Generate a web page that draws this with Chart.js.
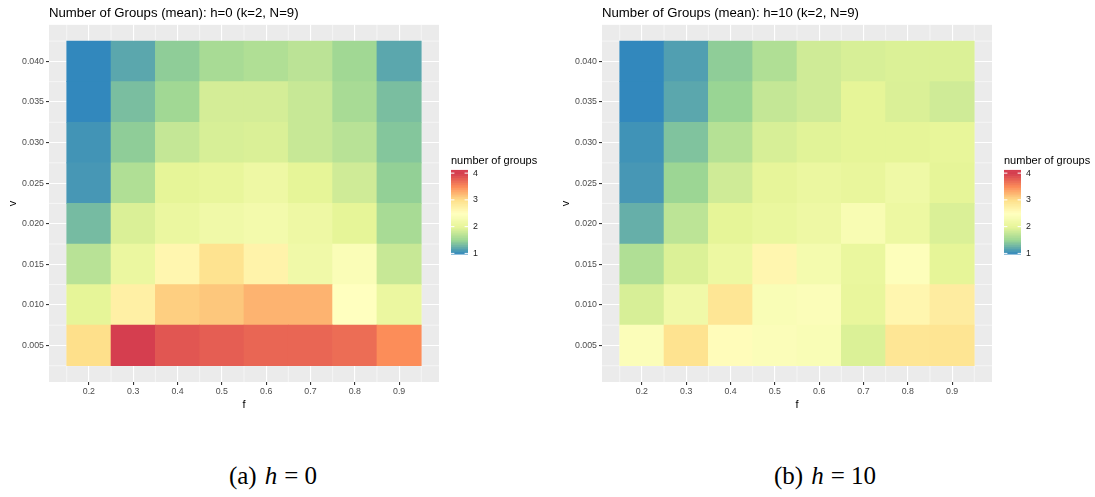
<!DOCTYPE html>
<html>
<head>
<meta charset="utf-8">
<script src="https://cdn.jsdelivr.net/npm/chart.js@4"></script>
<style>
  body { margin: 0; background: #fff; width: 1095px; height: 497px; position: relative; overflow: hidden; }
  .panel { position: absolute; top: 0; width: 550px; height: 420px; }
  .cap { position: absolute; top: 462px; font-family: "Liberation Serif", serif; font-size: 25px; color: #000; white-space: nowrap; transform: translateX(-50%); }
  .cap i { margin: 0 7px 0 8px; }
</style>
</head>
<body>
<div class="panel" style="left:0px"><canvas id="left" width="550" height="420"></canvas></div>
<div class="panel" style="left:553px"><canvas id="right" width="550" height="420"></canvas></div>
<div class="cap" style="left:273px">(a)<i>h</i>= 0</div>
<div class="cap" style="left:825px">(b)<i>h</i>= 10</div>
<script>
// axes levels
const fLevels = [0.2, 0.3, 0.4, 0.5, 0.6, 0.7, 0.8, 0.9];
const vLevels = [0.005, 0.010, 0.015, 0.020, 0.025, 0.030, 0.035, 0.040];
const legendBreaks = [1, 2, 3, 4];

// mean number of groups, one row per v (0.005 first), columns follow fLevels
const h0Rows = [
  [3.0, 4.0, 3.85, 3.8, 3.75, 3.75, 3.7, 3.5],
  [2.0, 2.75, 3.1, 3.15, 3.27, 3.27, 2.5, 2.1],
  [1.7, 2.1, 2.65, 2.95, 2.7, 2.2, 2.4, 1.8],
  [1.33, 1.92, 2.1, 2.2, 2.25, 2.15, 2.0, 1.6],
  [1.1, 1.65, 2.0, 2.05, 2.15, 2.0, 1.85, 1.47],
  [1.08, 1.45, 1.78, 1.9, 1.92, 1.8, 1.7, 1.4],
  [1.0, 1.35, 1.55, 1.88, 1.88, 1.8, 1.6, 1.35],
  [1.0, 1.2, 1.45, 1.6, 1.65, 1.72, 1.55, 1.2]
];
const h10Rows = [
  [2.42, 2.95, 2.55, 2.42, 2.38, 1.93, 2.9, 2.92],
  [1.9, 2.2, 2.9, 2.38, 2.42, 2.05, 2.65, 2.8],
  [1.65, 1.93, 2.13, 2.65, 2.28, 2.08, 2.45, 2.0],
  [1.25, 1.73, 2.0, 2.08, 2.15, 2.35, 2.13, 1.92],
  [1.1, 1.52, 1.85, 2.02, 2.1, 2.05, 2.18, 2.0],
  [1.07, 1.38, 1.68, 1.9, 1.97, 2.0, 2.0, 2.03],
  [1.0, 1.2, 1.5, 1.78, 1.85, 2.0, 1.92, 1.85],
  [1.0, 1.15, 1.45, 1.65, 1.85, 1.9, 1.93, 1.93]
];

// Spectral (reversed) low -> high
const spectral = ["#3288BD", "#99D594", "#E6F598", "#FFFFBF", "#FEE08B", "#FC8D59", "#D53E4F"];
const colMin = 1, colMax = 4;

function hexRgb(h) {
  return [parseInt(h.slice(1, 3), 16), parseInt(h.slice(3, 5), 16), parseInt(h.slice(5, 7), 16)];
}
function colorFor(val) {
  let t = (val - colMin) / (colMax - colMin);
  t = Math.max(0, Math.min(1, t));
  const pos = t * (spectral.length - 1);
  const i = Math.min(Math.floor(pos), spectral.length - 2);
  const k = pos - i;
  const a = hexRgb(spectral[i]), b = hexRgb(spectral[i + 1]);
  const c = a.map((x, j) => Math.round(x + (b[j] - x) * k));
  return "rgb(" + c.join(",") + ")";
}

const fHalf = (fLevels[1] - fLevels[0]) / 2;
const vHalf = (vLevels[1] - vLevels[0]) / 2;

function expanded(levels, half) {
  const lo = levels[0] - half, hi = levels[levels.length - 1] + half;
  const pad = (hi - lo) * 0.05;
  return [lo - pad, hi + pad];
}

// ggplot-ish panel background + minor grid
const panelBg = {
  id: "panelBg",
  beforeDraw(chart) {
    const a = chart.chartArea, ctx = chart.ctx;
    ctx.save();
    ctx.fillStyle = "#EBEBEB";
    ctx.fillRect(a.left, a.top, a.right - a.left, a.bottom - a.top);
    ctx.restore();
  },
  beforeDatasetsDraw(chart) {
    const a = chart.chartArea, ctx = chart.ctx;
    const xs = chart.scales.x, ys = chart.scales.y;
    ctx.save();
    ctx.strokeStyle = "#ffffff";
    ctx.lineWidth = 0.55;
    fLevels.concat([fLevels[fLevels.length - 1] + 2 * fHalf]).forEach(f => {
      const px = xs.getPixelForValue(f - fHalf);
      ctx.beginPath(); ctx.moveTo(px, a.top); ctx.lineTo(px, a.bottom); ctx.stroke();
    });
    vLevels.concat([vLevels[vLevels.length - 1] + 2 * vHalf]).forEach(v => {
      const py = ys.getPixelForValue(v - vHalf);
      ctx.beginPath(); ctx.moveTo(a.left, py); ctx.lineTo(a.right, py); ctx.stroke();
    });
    ctx.restore();
  }
};

// colourbar legend on the right
const colorBar = {
  id: "colorBar",
  afterDraw(chart) {
    const a = chart.chartArea, ctx = chart.ctx;
    const barW = 17, barH = 84;
    const x0 = a.right + 12;
    const yTop = (a.top + a.bottom) / 2 - 33.5, yBot = yTop + barH;
    const vLo = 0.98, vHi = 4.12;
    const yFor = v => yBot - (v - vLo) / (vHi - vLo) * barH;
    ctx.save();
    const steps = 120;
    for (let s = 0; s < steps; s++) {
      const v = vLo + (vHi - vLo) * (s + 0.5) / steps;
      ctx.fillStyle = colorFor(v);
      ctx.fillRect(x0, yBot - (s + 1) * barH / steps, barW, barH / steps + 0.6);
    }
    ctx.strokeStyle = "#ffffff";
    ctx.lineWidth = 1;
    ctx.fillStyle = "#1a1a1a";
    ctx.font = "8.8px 'Liberation Sans', Arial, sans-serif";
    ctx.textBaseline = "middle";
    ctx.textAlign = "left";
    legendBreaks.forEach(b => {
      const y = yFor(b);
      ctx.beginPath();
      ctx.moveTo(x0, y); ctx.lineTo(x0 + 3.4, y);
      ctx.moveTo(x0 + barW - 3.4, y); ctx.lineTo(x0 + barW, y);
      ctx.stroke();
      ctx.fillText(String(b), x0 + barW + 5, y);
    });
    ctx.fillStyle = "#000";
    ctx.font = "11px 'Liberation Sans', Arial, sans-serif";
    ctx.textBaseline = "alphabetic";
    ctx.fillText("number of groups", x0, yTop - 6);
    ctx.restore();
  }
};

function makeChart(id, rows, title) {
  const datasets = rows.map((row, r) => ({
    label: "v=" + vLevels[r].toFixed(3),
    data: fLevels.map(f => ({ x: f, y: [vLevels[r] - vHalf, vLevels[r] + vHalf] })),
    backgroundColor: row.map(colorFor),
    borderWidth: 0,
    barPercentage: 1,
    categoryPercentage: 1,
    grouped: false
  }));
  const xr = expanded(fLevels, fHalf);
  const yr = expanded(vLevels, vHalf);
  return new Chart(document.getElementById(id), {
    type: "bar",
    data: { datasets: datasets },
    options: {
      responsive: false,
      animation: false,
      layout: { padding: { left: 0, right: 111, top: 0, bottom: 0 } },
      plugins: {
        legend: { display: false },
        tooltip: { enabled: false },
        title: {
          display: true,
          text: title,
          align: "start",
          fullSize: false,
          color: "#000",
          font: { family: "'Liberation Sans', Arial, sans-serif", size: 13.2, weight: "normal" },
          padding: { top: 5, bottom: 4 }
        }
      },
      scales: {
        x: {
          type: "linear",
          offset: false,
          min: xr[0],
          max: xr[1],
          afterBuildTicks: s => { s.ticks = fLevels.map(v => ({ value: v })); },
          afterFit: s => { s.height = 38; },
          grid: { offset: false, color: "#ffffff", lineWidth: 1.1, tickColor: "#333333", tickLength: 3 },
          border: { display: false },
          ticks: {
            color: "#4D4D4D",
            padding: 1,
            maxRotation: 0,
            font: { family: "'Liberation Sans', Arial, sans-serif", size: 8.8 },
            callback: v => Number(v).toFixed(1)
          },
          title: {
            display: true, text: "f", color: "#000",
            font: { family: "'Liberation Sans', Arial, sans-serif", size: 11 },
            padding: { top: 0, bottom: 8 }
          }
        },
        y: {
          type: "linear",
          min: yr[0],
          max: yr[1],
          afterBuildTicks: s => { s.ticks = vLevels.map(v => ({ value: v })); },
          afterFit: s => { s.width = 49; },
          grid: { color: "#ffffff", lineWidth: 1.1, tickColor: "#333333", tickLength: 3 },
          border: { display: false },
          ticks: {
            color: "#4D4D4D",
            padding: 2,
            font: { family: "'Liberation Sans', Arial, sans-serif", size: 8.8 },
            callback: v => Number(v).toFixed(3)
          },
          title: {
            display: true, text: "v", color: "#000",
            font: { family: "'Liberation Sans', Arial, sans-serif", size: 11 },
            padding: { top: 6, bottom: 0 }
          }
        }
      }
    },
    plugins: [panelBg, colorBar]
  });
}

makeChart("left", h0Rows, "Number of Groups (mean): h=0 (k=2, N=9)");
makeChart("right", h10Rows, "Number of Groups (mean): h=10 (k=2, N=9)");
</script>
</body>
</html>
